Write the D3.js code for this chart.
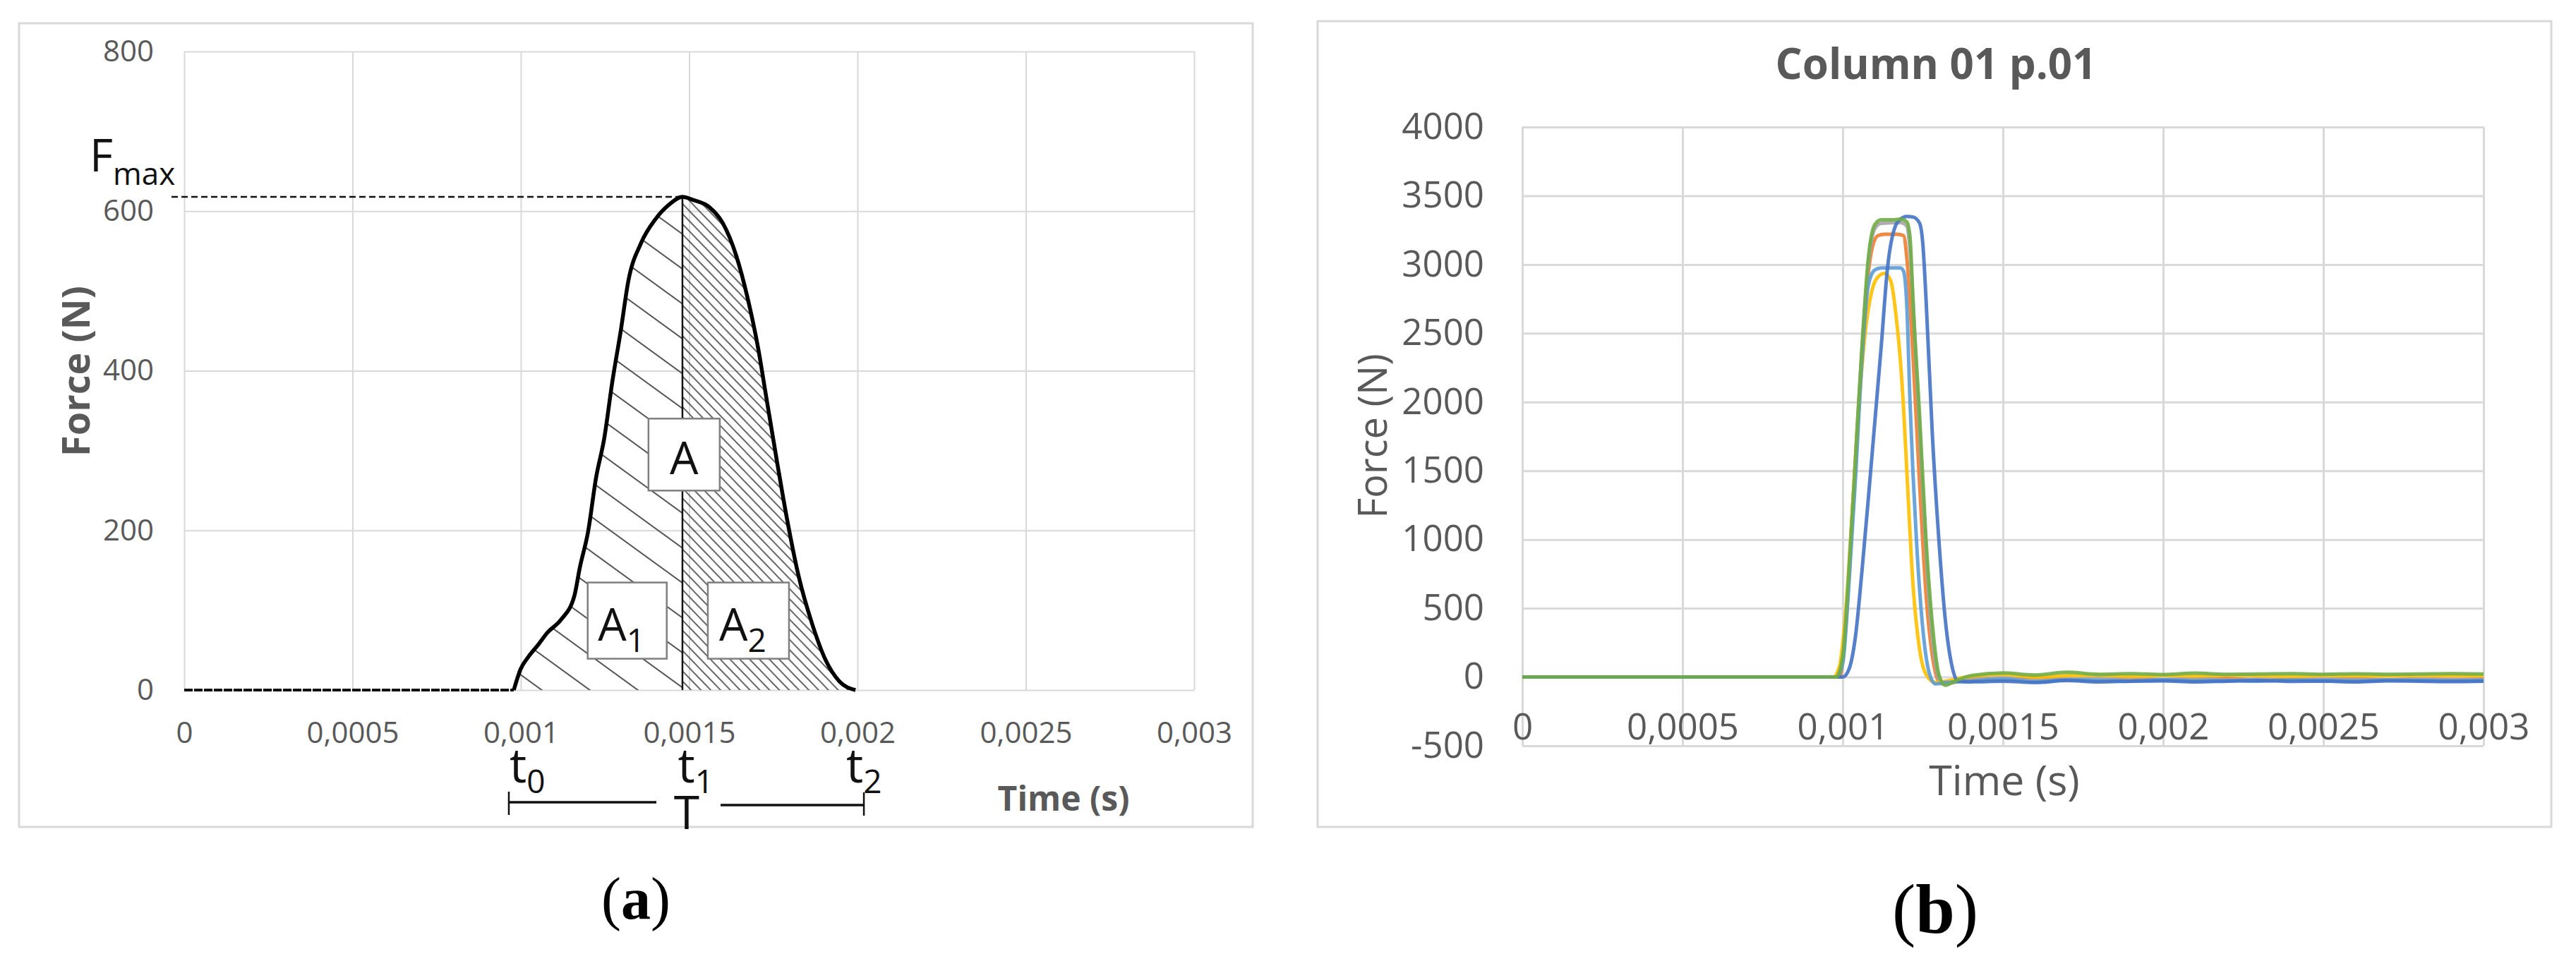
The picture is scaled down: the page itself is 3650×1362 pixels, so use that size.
<!DOCTYPE html>
<html>
<head>
<meta charset="utf-8">
<script src="https://cdn.jsdelivr.net/npm/d3@7"></script>
<style>
  body { margin: 0; background: #fff; }
  text { font-family: "Open Sans", sans-serif; }
  text.caption { font-family: "Liberation Serif", "DejaVu Serif", serif; }
</style>
</head>
<body>
<svg id="Figure"></svg>
<script>
const WidthTotal = 3650;
const HeightTotal = 1362;

// ---------- data, panel (a) ----------
const TimeA  = [0, 0.000979, 0.000999, 0.001023, 0.001052, 0.001079, 0.001119, 0.001159, 0.001175, 0.0012, 0.001223, 0.001248, 0.001272, 0.001296, 0.00132, 0.001356, 0.0014, 0.00144, 0.00148, 0.001512, 0.00156, 0.0016, 0.00164, 0.001672, 0.001705, 0.001729, 0.001761, 0.001793, 0.001825, 0.001866, 0.001906, 0.001946, 0.001994];
const ForceA = [0, 0, 26, 42, 57, 72, 88, 118, 153, 199, 265, 316, 387, 448, 514, 559, 590, 608, 618, 614, 605, 585, 544, 494, 428, 367, 286, 209, 143, 82, 37, 11, 0];
const Fmax = 618;
const Tpeak = 0.00148;
const T0 = 0.000979;
const T2 = 0.002019;

const TimeTicks = [0, 0.0005, 0.001, 0.0015, 0.002, 0.0025, 0.003];
const TimeTickLabels = ["0", "0,0005", "0,001", "0,0015", "0,002", "0,0025", "0,003"];
const ForceTicksA = [0, 200, 400, 600, 800];

// t labels under the axis
const tMarkTimes = [0.001, 0.0015, 0.002];
const tMarkSubs = ["0", "1", "2"];

// area labels: [time, force] of box centres
const AreaBoxes = [
  { main: "A", sub: "",  t: 0.001485, f: 295, w: 101, h: 102 },
  { main: "A", sub: "1", t: 0.001316, f: 87,  w: 112, h: 108 },
  { main: "A", sub: "2", t: 0.001676, f: 87,  w: 115, h: 108 }
];

// ---------- data, panel (b) ----------
const ForceTicksB = [-500, 0, 500, 1000, 1500, 2000, 2500, 3000, 3500, 4000];
const SeriesColors = ["#4472C4", "#ED7D31", "#A5A5A5", "#FFC000", "#5B9BD5", "#70AD47"];

const TailTime = [0.0014, 0.0015, 0.0016, 0.0017, 0.0018, 0.0019, 0.002, 0.0021, 0.0022, 0.0023, 0.0024, 0.0025, 0.0026, 0.0027, 0.0028, 0.0029, 0.003];

const OrangeT = [0, 0.00099, 0.00101, 0.00103, 0.00105, 0.00107, 0.00109, 0.00111, 0.00113, 0.00117, 0.00119, 0.0012, 0.00122, 0.00124, 0.00126, 0.00128, 0.0013, 0.00133];
const OrangeF = [0, 0, 400, 1200, 2000, 2700, 3100, 3210, 3220, 3220, 3210, 3050, 2300, 1400, 600, 150, -30, -45];
const OrangeTail = [-10, -20, -5, -15, -25, -10, -20, -15, -10, -22, -15, -18, -12, -20, -15, -18, -15];

const GrayT = [0, 0.00098, 0.001, 0.00102, 0.00104, 0.00106, 0.00108, 0.0011, 0.00112, 0.00118, 0.0012, 0.00121, 0.00123, 0.00125, 0.00127, 0.00129, 0.00131, 0.00134];
const GrayF = [0, 0, 120, 750, 1550, 2350, 3000, 3260, 3300, 3305, 3280, 3100, 2250, 1350, 550, 90, -50, -40];
const GrayTail = [-20, -5, -25, -15, -10, -20, -18, -12, -22, -15, -20, -15, -18, -20, -15, -20, -18];

const GoldT = [0, 0.00097, 0.00099, 0.00101, 0.00103, 0.00105, 0.00107, 0.00109, 0.00111, 0.00113, 0.00115, 0.00117, 0.00118, 0.00119, 0.0012, 0.00122, 0.00124, 0.00126, 0.00129, 0.00132];
const GoldF = [0, 0, 80, 500, 1200, 1950, 2500, 2800, 2910, 2935, 2880, 2550, 2300, 1950, 1500, 650, 200, 20, -40, -30];
const GoldTail = [5, 20, 0, 10, 15, 5, 12, 8, 15, 10, 5, 12, 10, 8, 12, 10, 10];

const LightBlueT = [0, 0.00098, 0.001, 0.00102, 0.00104, 0.00106, 0.00108, 0.0011, 0.00112, 0.00118, 0.00119, 0.0012, 0.00121, 0.00123, 0.00125, 0.00127, 0.00129, 0.00132];
const LightBlueF = [0, 0, 100, 700, 1450, 2300, 2850, 2960, 2975, 2975, 2950, 2700, 2000, 1000, 350, 30, -50, -40];
const LightBlueTail = [-30, -15, -35, -20, -25, -30, -20, -28, -25, -30, -22, -25, -28, -22, -25, -27, -25];

const GreenT = [0, 0.00098, 0.001, 0.00102, 0.00104, 0.00106, 0.00108, 0.0011, 0.00112, 0.00116, 0.00118, 0.0012, 0.00121, 0.00122, 0.00124, 0.00126, 0.00128, 0.0013, 0.00132, 0.00135];
const GreenF = [0, 0, 150, 800, 1600, 2400, 3050, 3290, 3325, 3325, 3330, 3310, 3200, 2700, 1900, 1000, 380, 20, -60, -30];
const GreenTail = [10, 30, 15, 35, 20, 25, 18, 28, 20, 22, 25, 20, 24, 20, 22, 25, 22];

const BlueT = [0, 0.001, 0.00102, 0.00104, 0.00106, 0.00108, 0.0011, 0.00112, 0.00114, 0.00116, 0.00118, 0.0012, 0.00122, 0.00124, 0.00125, 0.00126, 0.00128, 0.0013, 0.00132, 0.00134, 0.00136];
const BlueF = [0, 0, 60, 300, 770, 1300, 1850, 2400, 2980, 3250, 3330, 3350, 3345, 3300, 3150, 2750, 1750, 1000, 420, 90, -30];
const BlueTail = [-35, -30, -40, -25, -35, -30, -28, -35, -30, -25, -32, -30, -35, -28, -30, -33, -30];

const SeriesB = [
  [OrangeT, OrangeF, OrangeTail, SeriesColors[1]],
  [GrayT, GrayF, GrayTail, SeriesColors[2]],
  [GoldT, GoldF, GoldTail, SeriesColors[3]],
  [LightBlueT, LightBlueF, LightBlueTail, SeriesColors[4]],
  [BlueT, BlueF, BlueTail, SeriesColors[0]],
  [GreenT, GreenF, GreenTail, SeriesColors[5]]
];

const MySpace = d3.select("#Figure")
  .attr("width", WidthTotal)
  .attr("height", HeightTotal);

MySpace.append("rect").attr("width", WidthTotal).attr("height", HeightTotal).attr("fill", "#fff");

const defs = MySpace.append("defs");

// sparse hatch for A1, dense hatch for A2
defs.append("pattern")
  .attr("id", "hatchLeft")
  .attr("patternUnits", "userSpaceOnUse")
  .attr("width", 40).attr("height", 40)
  .attr("patternTransform", "rotate(36)")
  .append("line")
  .attr("x1", 0).attr("y1", 20).attr("x2", 40).attr("y2", 20)
  .attr("stroke", "#555").attr("stroke-width", 2);

defs.append("pattern")
  .attr("id", "hatchRight")
  .attr("patternUnits", "userSpaceOnUse")
  .attr("width", 10).attr("height", 10)
  .attr("patternTransform", "rotate(46)")
  .append("line")
  .attr("x1", 0).attr("y1", 5).attr("x2", 10).attr("y2", 5)
  .attr("stroke", "#333").attr("stroke-width", 1.5);

const gridColor = "#d9d9d9";
const labelColor = "#595959";

//////////////// panel (a)
const gA = MySpace.append("g");

gA.append("rect")
  .attr("x", 27).attr("y", 33).attr("width", 1748).attr("height", 1139)
  .attr("fill", "none").attr("stroke", gridColor).attr("stroke-width", 3);

const xA = d3.scaleLinear().domain([0, 0.003]).range([261, 1692]);
const yA = d3.scaleLinear().domain([0, 800]).range([978, 73]);

// grid
gA.append("g")
  .attr("transform", `translate(0,${yA(0)})`)
  .call(d3.axisBottom(xA).tickValues(TimeTicks).tickSize(-(yA(0) - yA(800))).tickFormat(""))
  .call(g => g.select(".domain").remove())
  .call(g => g.selectAll("line").attr("stroke", gridColor).attr("stroke-width", 2));

gA.append("g")
  .attr("transform", `translate(${xA(0)},0)`)
  .call(d3.axisLeft(yA).tickValues(ForceTicksA).tickSize(-(xA(0.003) - xA(0))).tickFormat(""))
  .call(g => g.select(".domain").remove())
  .call(g => g.selectAll("line").attr("stroke", gridColor).attr("stroke-width", 2));

// tick labels
gA.append("g")
  .attr("transform", `translate(0,${yA(0)})`)
  .call(d3.axisBottom(xA).tickValues(TimeTicks).tickSize(0).tickPadding(45)
    .tickFormat((d, i) => TimeTickLabels[i]))
  .call(g => g.select(".domain").remove())
  .call(g => g.selectAll("text").attr("font-size", 42).attr("fill", labelColor)
    .attr("font-family", "Open Sans"));

gA.append("g")
  .attr("transform", `translate(${xA(0)},0)`)
  .call(d3.axisLeft(yA).tickValues(ForceTicksA).tickSize(0).tickPadding(43).tickFormat(d => String(d)))
  .call(g => g.select(".domain").remove())
  .call(g => g.selectAll("text").attr("font-size", 42).attr("fill", labelColor)
    .attr("font-family", "Open Sans"));

// hatched areas
const pulseA = TimeA.map((t, i) => [t, ForceA[i]]).filter(d => d[0] >= T0);
const areaA = d3.area().x(d => xA(d[0])).y0(yA(0)).y1(d => yA(d[1])).curve(d3.curveMonotoneX);
const lineA = d3.line().x(d => xA(d[0])).y(d => yA(d[1])).curve(d3.curveMonotoneX);

gA.append("path")
  .datum(pulseA.filter(d => d[0] <= Tpeak))
  .attr("d", areaA).attr("fill", "url(#hatchLeft)");
gA.append("path")
  .datum(pulseA.filter(d => d[0] >= Tpeak))
  .attr("d", areaA).attr("fill", "url(#hatchRight)");

// Fmax dashed line
gA.append("line")
  .attr("x1", 243).attr("x2", xA(Tpeak))
  .attr("y1", yA(Fmax)).attr("y2", yA(Fmax))
  .attr("stroke", "#111").attr("stroke-width", 2.5).attr("stroke-dasharray", "9 5");

// vertical line at the peak
gA.append("line")
  .attr("x1", xA(Tpeak)).attr("x2", xA(Tpeak))
  .attr("y1", yA(Fmax)).attr("y2", yA(0))
  .attr("stroke", "#111").attr("stroke-width", 2.5);

// zero part and pulse
gA.append("path")
  .datum(TimeA.map((t, i) => [t, ForceA[i]]).filter(d => d[0] <= T0))
  .attr("d", lineA).attr("fill", "none")
  .attr("stroke", "#111").attr("stroke-width", 4).attr("stroke-dasharray", "12 2");

gA.append("path")
  .datum(pulseA)
  .attr("d", lineA).attr("fill", "none")
  .attr("stroke", "#000").attr("stroke-width", 5.5).attr("stroke-linejoin", "round");

// area boxes
const boxes = gA.selectAll(".areaBox")
  .data(AreaBoxes)
  .enter()
  .append("g")
  .attr("class", "areaBox")
  .attr("transform", d => `translate(${xA(d.t)},${yA(d.f)})`);

boxes.append("rect")
  .attr("x", d => -d.w / 2).attr("y", d => -d.h / 2)
  .attr("width", d => d.w).attr("height", d => d.h)
  .attr("fill", "#fff").attr("stroke", "#7f7f7f").attr("stroke-width", 2.5);

boxes.append("text")
  .attr("x", d => d.sub ? -8 : 0)
  .attr("y", 28)
  .attr("text-anchor", "middle")
  .attr("font-size", 64).attr("fill", "#111")
  .text(d => d.main)
  .append("tspan")
  .attr("dy", 16).attr("font-size", 46)
  .text(d => d.sub);

// Fmax label
gA.append("text")
  .attr("x", 127).attr("y", yA(Fmax) - 36)
  .attr("font-size", 64).attr("fill", "#111")
  .text("F")
  .append("tspan")
  .attr("dy", 19).attr("font-size", 44)
  .text("max");

// t0 t1 t2
gA.selectAll(".tMark")
  .data(tMarkTimes)
  .enter()
  .append("text")
  .attr("class", "tMark")
  .attr("x", d => xA(d) - 16)
  .attr("y", 1109)
  .attr("font-size", 68).attr("fill", "#111")
  .text("t")
  .append("tspan")
  .attr("dy", 15).attr("font-size", 46)
  .text((d, i) => tMarkSubs[i]);

// duration bar T
const barY = 1139;
gA.append("line").attr("x1", xA(T0) - 7).attr("x2", xA(T0) - 7).attr("y1", barY - 17).attr("y2", barY + 16)
  .attr("stroke", "#111").attr("stroke-width", 2.5);
gA.append("line").attr("x1", xA(T0) - 7).attr("x2", 930).attr("y1", barY - 2).attr("y2", barY - 2)
  .attr("stroke", "#111").attr("stroke-width", 3.5);
gA.append("line").attr("x1", 1021).attr("x2", xA(T2)).attr("y1", barY + 2).attr("y2", barY + 2)
  .attr("stroke", "#111").attr("stroke-width", 3.5);
gA.append("line").attr("x1", xA(T2)).attr("x2", xA(T2)).attr("y1", barY - 16).attr("y2", barY + 17)
  .attr("stroke", "#111").attr("stroke-width", 2.5);
gA.append("text")
  .attr("x", 973).attr("y", 1175)
  .attr("text-anchor", "middle")
  .attr("font-size", 66).attr("fill", "#111")
  .text("T");

// axis titles
gA.append("text")
  .attr("x", 1507).attr("y", 1149)
  .attr("text-anchor", "middle")
  .attr("font-size", 48).attr("font-weight", "bold").attr("fill", labelColor)
  .text("Time (s)");

gA.append("text")
  .attr("transform", "translate(127,526) rotate(-90)")
  .attr("text-anchor", "middle")
  .attr("font-size", 54).attr("font-weight", "bold").attr("fill", labelColor)
  .text("Force (N)");

//////////////// panel (b)
const gB = MySpace.append("g");

gB.append("rect")
  .attr("x", 1867).attr("y", 30).attr("width", 1748).attr("height", 1142)
  .attr("fill", "none").attr("stroke", gridColor).attr("stroke-width", 3);

const xB = d3.scaleLinear().domain([0, 0.003]).range([2157, 3519]);
const yB = d3.scaleLinear().domain([-500, 4000]).range([1057, 180]);

gB.append("g")
  .attr("transform", `translate(0,${yB(-500)})`)
  .call(d3.axisBottom(xB).tickValues(TimeTicks).tickSize(-(yB(-500) - yB(4000))).tickFormat(""))
  .call(g => g.select(".domain").remove())
  .call(g => g.selectAll("line").attr("stroke", gridColor).attr("stroke-width", 3));

gB.append("g")
  .attr("transform", `translate(${xB(0)},0)`)
  .call(d3.axisLeft(yB).tickValues(ForceTicksB).tickSize(-(xB(0.003) - xB(0))).tickFormat(""))
  .call(g => g.select(".domain").remove())
  .call(g => g.selectAll("line").attr("stroke", gridColor).attr("stroke-width", 3));

gB.append("g")
  .attr("transform", `translate(0,${yB(0)})`)
  .call(d3.axisBottom(xB).tickValues(TimeTicks).tickSize(0).tickPadding(52)
    .tickFormat((d, i) => TimeTickLabels[i]))
  .call(g => g.select(".domain").remove())
  .call(g => g.selectAll("text").attr("font-size", 51).attr("fill", labelColor)
    .attr("font-family", "Open Sans"));

gB.append("g")
  .attr("transform", `translate(${xB(0)},0)`)
  .call(d3.axisLeft(yB).tickValues(ForceTicksB).tickSize(0).tickPadding(54).tickFormat(d => String(d)))
  .call(g => g.select(".domain").remove())
  .call(g => g.selectAll("text").attr("font-size", 51).attr("fill", labelColor)
    .attr("font-family", "Open Sans"));

const lineB = d3.line().x(d => xB(d[0])).y(d => yB(d[1])).curve(d3.curveMonotoneX);

SeriesB.forEach(s => {
  const pts = s[0].map((t, i) => [t, s[1][i]])
    .concat(TailTime.map((t, i) => [t, s[2][i]]));
  gB.append("path")
    .datum(pts)
    .attr("d", lineB)
    .attr("fill", "none")
    .attr("stroke", s[3])
    .attr("stroke-width", 5)
    .attr("stroke-linejoin", "round")
    .attr("stroke-opacity", 0.9);
});

gB.append("text")
  .attr("x", 2743).attr("y", 112)
  .attr("text-anchor", "middle")
  .attr("font-size", 60).attr("font-weight", "bold").attr("fill", labelColor)
  .text("Column 01 p.01");

gB.append("text")
  .attr("x", 2840).attr("y", 1127)
  .attr("text-anchor", "middle")
  .attr("font-size", 59).attr("fill", labelColor)
  .text("Time (s)");

gB.append("text")
  .attr("transform", "translate(1965,618) rotate(-90)")
  .attr("text-anchor", "middle")
  .attr("font-size", 56).attr("fill", labelColor)
  .text("Force (N)");

//////////////// panel captions
const captions = [["a", 901, 1302, 84], ["b", 2742, 1322, 100]];
captions.forEach(c => {
  const t = MySpace.append("text")
    .attr("class", "caption")
    .attr("x", c[1]).attr("y", c[2])
    .attr("text-anchor", "middle")
    .attr("font-size", c[3]).attr("fill", "#000");
  t.append("tspan").text("(");
  t.append("tspan").attr("font-weight", "bold").text(c[0]);
  t.append("tspan").text(")");
});
</script>
</body>
</html>
